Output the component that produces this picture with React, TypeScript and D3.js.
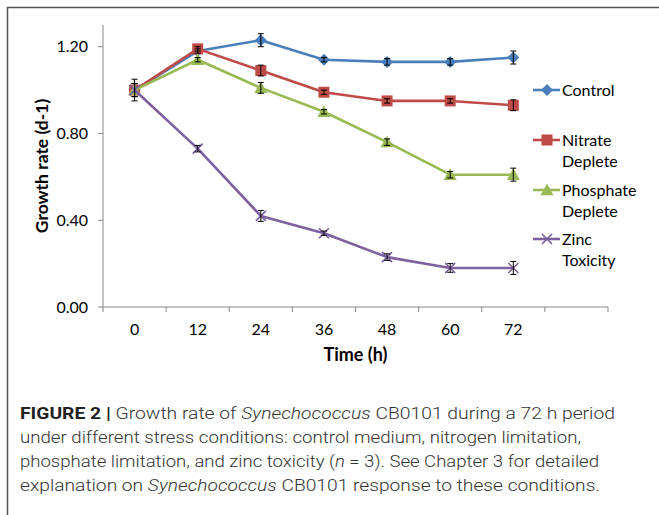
import React from 'react'
import * as d3 from 'd3'

// time points (h); the last, empty band is kept as in the original Excel axis
const hours = ['0', '12', '24', '36', '48', '60', '72', '']
const seriesNames = ['Control', 'Nitrate Deplete', 'Phosphate Deplete', 'Zinc Toxicity']
const control = [1.0, 1.18, 1.23, 1.14, 1.13, 1.13, 1.15]
const controlErr = [0.05, 0.01, 0.03, 0.01, 0.015, 0.015, 0.03]
const nitrate = [1.0, 1.19, 1.09, 0.99, 0.95, 0.95, 0.93]
const nitrateErr = [0.03, 0.01, 0.025, 0.01, 0.01, 0.01, 0.025]
const phosphate = [1.0, 1.14, 1.01, 0.9, 0.76, 0.61, 0.61]
const phosphateErr = [0.03, 0.01, 0.025, 0.01, 0.015, 0.015, 0.03]
const zinc = [1.0, 0.73, 0.42, 0.34, 0.23, 0.18, 0.18]
const zincErr = [0.03, 0.015, 0.025, 0.01, 0.015, 0.02, 0.03]
const yTicks = [0, 0.4, 0.8, 1.2]

const colors = ['#4a7ebb', '#be4b48', '#98b954', '#7d60a0']
const symbols = ['diamond', 'square', 'triangle', 'cross']

const W = 659
const H = 515
const plot = { left: 103, right: 608, top: 25, bottom: 307 }
const font = 'Lato, "Open Sans", sans-serif'
const capFont = 'Roboto, "Liberation Sans", sans-serif'

const x = d3.scaleBand<string>().domain(hours).range([plot.left, plot.right])
const y = d3.scaleLinear().domain([0, 1.3]).range([plot.bottom, plot.top])
const cx = (i: number) => (x(hours[i]) as number) + x.bandwidth() / 2

const Marker = ({ kind, color, px, py }: { kind: string; color: string; px: number; py: number }) => {
  if (kind === 'diamond') {
    const s = 6
    return <path d={`M${px},${py - s}L${px + s},${py}L${px},${py + s}L${px - s},${py}Z`} fill={color} />
  }
  if (kind === 'square') {
    const s = 5.5
    return <rect x={px - s} y={py - s} width={2 * s} height={2 * s} fill={color} />
  }
  if (kind === 'triangle') {
    const s = 6.5
    return <path d={`M${px},${py - s}L${px + s},${py + s * 0.8}L${px - s},${py + s * 0.8}Z`} fill={color} />
  }
  const s = 5
  return (
    <path
      d={`M${px - s},${py - s}L${px + s},${py + s}M${px - s},${py + s}L${px + s},${py - s}`}
      stroke={color}
      strokeWidth={1.6}
      fill='none'
    />
  )
}

const App = () => {
  const data = [control, nitrate, phosphate, zinc]
  const errs = [controlErr, nitrateErr, phosphateErr, zincErr]
  const line = d3.line<number>().x((_, i) => cx(i)).y(d => y(d))
  const legendY = [90, 140, 190, 239]

  return (
    <svg width={W} height={H} style={{ position: 'absolute', left: 0, top: 0 }}>
      <rect width={W} height={H} fill='#fff' />
      {/* figure frame */}
      <path d={`M7.5,${H}V7.5H${W}`} fill='none' stroke='#555' strokeWidth={1.5} />

      {/* axes */}
      <g stroke='#868686' strokeWidth={1}>
        <line x1={plot.left} x2={plot.left} y1={plot.top} y2={plot.bottom} />
        <line x1={plot.left} x2={plot.right} y1={plot.bottom} y2={plot.bottom} />
        {yTicks.map(t => (
          <line key={t} x1={plot.left - 5} x2={plot.left} y1={y(t)} y2={y(t)} />
        ))}
        {hours.map((h, i) => (
          <line key={i} x1={x(h)} x2={x(h)} y1={plot.bottom} y2={plot.bottom + 5} />
        ))}
        <line x1={plot.right} x2={plot.right} y1={plot.bottom} y2={plot.bottom + 5} />
      </g>
      <g fontFamily={font} fontSize={16} fill='#000'>
        {yTicks.map(t => (
          <text key={t} x={88} y={y(t) + 5.5} textAnchor='end'>{t.toFixed(2)}</text>
        ))}
        {hours.map((h, i) => (
          <text key={i} x={cx(i)} y={335} textAnchor='middle'>{h}</text>
        ))}
        <text x={(plot.left + plot.right) / 2} y={361} textAnchor='middle' fontWeight='bold' fontSize={18}>Time (h)</text>
        <text
          transform={`translate(48,${(plot.top + plot.bottom) / 2}) rotate(-90)`}
          textAnchor='middle'
          fontWeight='bold'
          fontSize={17.5}
        >
          Growth rate (d-1)
        </text>
      </g>

      {/* series */}
      {data.map((vals, s) => (
        <g key={seriesNames[s]}>
          <path d={line(vals) as string} fill='none' stroke={colors[s]} strokeWidth={2.6} strokeLinejoin='round' />
          {vals.map((v, i) => (
            <Marker key={i} kind={symbols[s]} color={colors[s]} px={cx(i)} py={y(v)} />
          ))}
        </g>
      ))}
      {/* error bars */}
      <g stroke='#000' strokeWidth={1}>
        {data.map((vals, s) =>
          vals.map((v, i) => {
            const e = errs[s][i]
            const p = cx(i)
            return (
              <g key={`${s}-${i}`}>
                <line x1={p} x2={p} y1={y(v + e)} y2={y(v - e)} />
                <line x1={p - 3} x2={p + 3} y1={y(v + e)} y2={y(v + e)} />
                <line x1={p - 3} x2={p + 3} y1={y(v - e)} y2={y(v - e)} />
              </g>
            )
          })
        )}
      </g>

      {/* legend */}
      <g fontFamily={font} fontSize={16} fill='#000'>
        {seriesNames.map((name, s) => {
          const words = name.split(' ')
          const ly = legendY[s]
          return (
            <g key={name}>
              <line x1={533} x2={560} y1={ly} y2={ly} stroke={colors[s]} strokeWidth={2.6} />
              <Marker kind={symbols[s]} color={colors[s]} px={547} py={ly} />
              {words.map((w, k) => (
                <text key={k} x={562} y={ly + 5.5 + k * 21}>{w}</text>
              ))}
            </g>
          )
        })}
      </g>

      {/* caption */}
      <g fontFamily={capFont} fontSize={17} fontWeight={300} fill='#333'>
        <text x={20} y={419} textLength={595} lengthAdjust='spacingAndGlyphs'>
          <tspan fontWeight='bold' fill='#222'>FIGURE 2 |</tspan> Growth rate of <tspan fontStyle='italic'>Synechococcus</tspan> CB0101 during a 72 h period
        </text>
        <text x={20} y={443} textLength={561} lengthAdjust='spacingAndGlyphs'>
          under different stress conditions: control medium, nitrogen limitation,
        </text>
        <text x={20} y={467} textLength={579} lengthAdjust='spacingAndGlyphs'>
          phosphate limitation, and zinc toxicity (<tspan fontStyle='italic'>n</tspan> = 3). See Chapter 3 for detailed
        </text>
        <text x={20} y={491} textLength={580} lengthAdjust='spacingAndGlyphs'>
          explanation on <tspan fontStyle='italic'>Synechococcus</tspan> CB0101 response to these conditions.
        </text>
      </g>
    </svg>
  )
}

export default App
